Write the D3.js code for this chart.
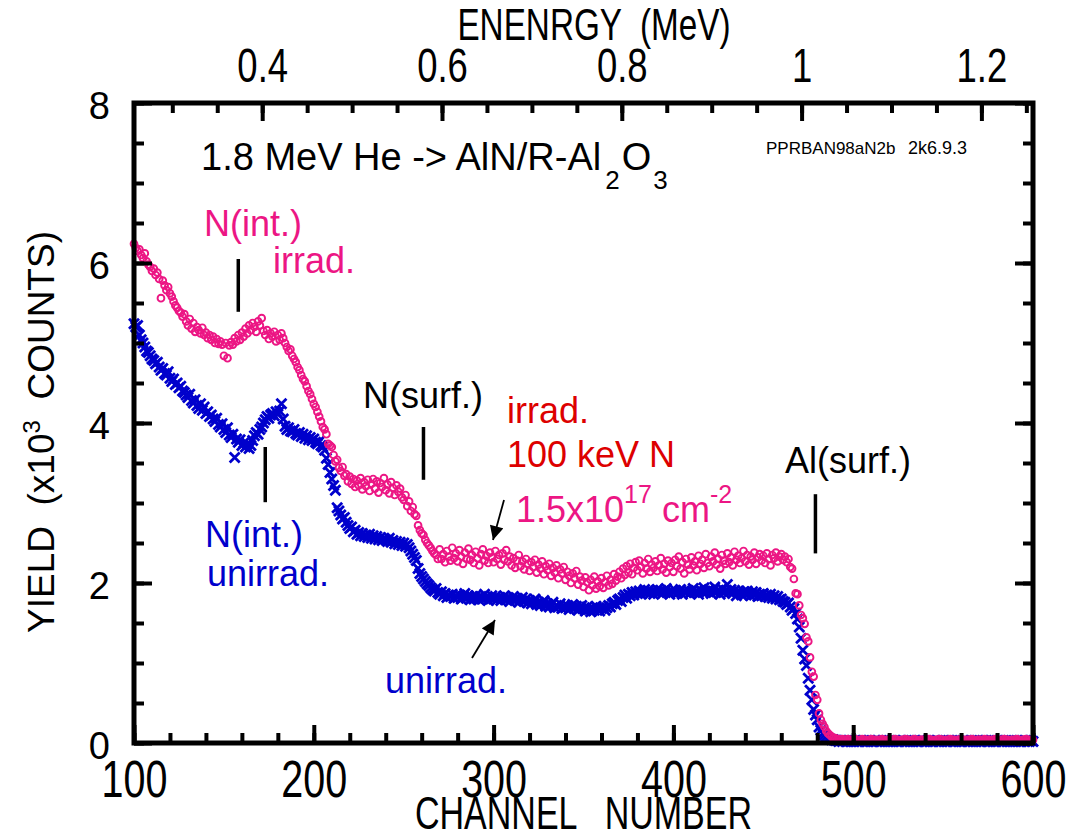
<!DOCTYPE html>
<html>
<head>
<meta charset="utf-8">
<script src="https://cdn.jsdelivr.net/npm/d3@7"></script>
<style>
body{margin:0;background:#fff;}
svg text{font-family:"Liberation Sans",Arial,sans-serif;}
</style>
</head>
<body>
<svg class="chart" width="1066" height="836"></svg>
<script>

// RBS spectra, one value per channel starting at channel 100 (x10^3 counts)
var firstChannel = 100;

var irradYield = [
 6.24,6.19,6.15,6.17,6.10,6.06,6.12,6.02,5.98,5.95, //100
 5.90,5.93,5.85,5.88,5.80,5.56,5.78,5.72,5.66,5.70, //110
 5.62,5.58,5.52,5.47,5.44,5.40,5.38,5.33,5.36,5.27, //120
 5.22,5.30,5.18,5.25,5.14,5.20,5.16,5.12,5.19,5.10, //130
 5.13,5.06,5.10,5.04,5.08,5.00,5.05,4.99,5.02,4.98, //140
 4.84,5.00,4.81,4.97,5.01,4.98,5.06,5.02,5.10,5.04, //150
 5.13,5.08,5.18,5.12,5.22,5.16,5.25,5.20,5.14,5.27, //160
 5.22,5.31,5.15,5.10,5.16,5.05,5.12,5.08,5.14,5.02, //170
 5.10,5.04,5.12,5.06,5.00,4.95,4.90,4.92,4.84,4.80, //180
 4.76,4.70,4.66,4.60,4.55,4.52,4.46,4.40,4.36,4.30, //190
 4.24,4.20,4.14,4.08,4.02,3.95,3.92,3.86,3.74,3.72, //200
 3.70,3.60,3.52,3.54,3.44,3.40,3.45,3.34,3.36,3.27, //210
 3.33,3.24,3.30,3.20,3.28,3.22,3.31,3.17,3.26,3.21, //220
 3.29,3.15,3.24,3.30,3.18,3.27,3.13,3.25,3.20,3.31, //230
 3.16,3.23,3.12,3.26,3.19,3.10,3.22,3.14,3.18,3.07, //240
 3.04,3.10,2.96,3.02,2.90,2.95,2.86,2.84,2.72,2.66, //250
 2.62,2.60,2.54,2.50,2.47,2.44,2.40,2.37,2.35,2.30, //260
 2.42,2.30,2.36,2.26,2.40,2.33,2.28,2.44,2.31,2.37, //270
 2.27,2.41,2.33,2.24,2.38,2.30,2.43,2.29,2.35,2.25, //280
 2.39,2.31,2.22,2.36,2.42,2.28,2.34,2.25,2.38,2.32, //290
 2.26,2.40,2.30,2.35,2.23,2.37,2.29,2.41,2.27,2.33, //300
 2.22,2.31,2.19,2.28,2.35,2.21,2.27,2.17,2.30,2.24, //310
 2.15,2.26,2.20,2.29,2.13,2.23,2.18,2.27,2.11,2.21, //320
 2.16,2.24,2.09,2.19,2.13,2.22,2.06,2.17,2.12,2.20, //330
 2.04,2.14,2.09,2.00,2.12,2.06,2.15,1.98,2.08,2.03, //340
 1.95,2.07,2.01,1.91,2.04,1.97,2.08,1.93,2.02,1.96, //350
 2.06,1.94,2.01,2.09,1.97,2.04,1.99,2.11,2.03,2.08, //360
 2.14,2.06,2.18,2.10,2.21,2.13,2.24,2.11,2.19,2.26, //370
 2.16,2.28,2.20,2.12,2.25,2.18,2.30,2.14,2.23,2.19, //380
 2.27,2.15,2.22,2.31,2.17,2.24,2.13,2.28,2.20,2.25, //390
 2.14,2.29,2.21,2.33,2.18,2.26,2.12,2.30,2.23,2.17, //400
 2.32,2.22,2.27,2.16,2.34,2.24,2.29,2.19,2.36,2.25, //410
 2.21,2.33,2.27,2.38,2.23,2.30,2.18,2.35,2.28,2.24, //420
 2.37,2.26,2.32,2.22,2.39,2.29,2.34,2.25,2.31,2.40, //430
 2.27,2.35,2.23,2.33,2.29,2.38,2.24,2.32,2.36,2.28, //440
 2.34,2.25,2.37,2.30,2.22,2.35,2.31,2.38,2.27,2.33, //450
 2.36,2.29,2.33,2.26,2.30,2.20,2.18,2.05,1.87,1.86, //460
 1.72,1.60,1.56,1.49,1.32,1.27,1.07,0.89,0.83,0.60, //470
 0.54,0.37,0.29,0.24,0.20,0.15,0.12,0.10,0.08,0.06, //480
 0.06,0.05,0.05,0.04,0.05,0.04,0.04,0.05,0.04,0.04, //490
 0.04,0.05,0.04,0.03,0.04,0.05,0.04,0.04,0.03,0.04, //500
 0.05,0.04,0.04,0.03,0.04,0.04,0.05,0.04,0.03,0.04, //510
 0.04,0.03,0.04,0.05,0.04,0.04,0.03,0.04,0.04,0.05, //520
 0.04,0.04,0.03,0.04,0.05,0.04,0.03,0.04,0.04,0.04, //530
 0.03,0.04,0.05,0.04,0.04,0.03,0.04,0.04,0.05,0.04, //540
 0.04,0.03,0.04,0.04,0.05,0.04,0.04,0.03,0.04,0.04, //550
 0.05,0.04,0.03,0.04,0.04,0.04,0.05,0.04,0.03,0.04, //560
 0.04,0.04,0.03,0.05,0.04,0.04,0.04,0.03,0.04,0.05, //570
 0.04,0.03,0.04,0.04,0.05,0.04,0.04,0.03,0.04,0.04, //580
 0.04,0.05,0.04,0.03,0.04,0.04,0.05,0.04,0.04,0.03, //590
 0.04
];

var unirradYield = [
 5.24,5.20,5.22,5.10,5.04,5.00,4.95,4.90,4.88,4.84, //100
 4.80,4.78,4.74,4.76,4.70,4.66,4.68,4.62,4.60,4.64, //110
 4.56,4.52,4.55,4.48,4.50,4.44,4.46,4.40,4.38,4.35, //120
 4.32,4.36,4.28,4.25,4.29,4.22,4.18,4.24,4.16,4.20, //130
 4.12,4.14,4.08,4.10,4.05,4.02,4.06,3.98,3.95,3.99, //140
 3.92,3.88,3.94,3.85,3.82,3.86,3.57,3.80,3.76,3.79, //150
 3.72,3.75,3.70,3.74,3.68,3.72,3.78,3.84,3.88,3.86, //160
 3.92,3.95,4.00,4.04,4.08,4.06,4.10,4.12,4.09,4.14, //170
 4.11,4.15,4.24,4.05,3.96,3.92,3.94,3.90,3.89,3.92, //180
 3.87,3.85,3.88,3.83,3.86,3.81,3.84,3.79,3.82,3.78, //190
 3.80,3.76,3.74,3.77,3.72,3.70,3.66,3.56,3.48,3.38, //200
 3.30,3.22,3.16,2.94,2.90,2.85,2.80,2.82,2.76,2.72, //210
 2.68,2.70,2.64,2.66,2.61,2.63,2.59,2.62,2.58,2.60, //220
 2.57,2.61,2.56,2.59,2.55,2.58,2.54,2.57,2.53,2.56, //230
 2.54,2.52,2.56,2.51,2.53,2.49,2.52,2.48,2.51,2.47, //240
 2.50,2.46,2.48,2.44,2.40,2.36,2.32,2.28,2.18,2.12, //250
 2.08,2.05,2.02,1.99,1.97,1.94,1.92,1.90,1.93,1.88, //260
 1.86,1.89,1.84,1.87,1.82,1.85,1.83,1.86,1.81,1.84, //270
 1.82,1.85,1.80,1.83,1.87,1.81,1.84,1.79,1.83,1.80, //280
 1.84,1.81,1.79,1.83,1.80,1.86,1.82,1.78,1.81,1.84, //290
 1.80,1.83,1.79,1.82,1.78,1.81,1.84,1.79,1.82,1.77, //300
 1.80,1.83,1.78,1.81,1.76,1.79,1.82,1.77,1.80,1.75, //310
 1.78,1.74,1.77,1.80,1.73,1.76,1.72,1.75,1.78,1.71, //320
 1.74,1.70,1.73,1.76,1.69,1.72,1.70,1.74,1.68,1.71, //330
 1.69,1.72,1.67,1.70,1.73,1.68,1.71,1.66,1.69,1.72, //340
 1.68,1.65,1.70,1.67,1.64,1.69,1.66,1.71,1.67,1.65, //350
 1.68,1.70,1.66,1.69,1.72,1.70,1.74,1.76,1.73,1.78, //360
 1.80,1.77,1.82,1.85,1.81,1.86,1.84,1.88,1.85,1.89, //370
 1.87,1.90,1.86,1.89,1.92,1.88,1.91,1.87,1.90,1.86, //380
 1.89,1.92,1.88,1.91,1.87,1.90,1.93,1.88,1.86,1.90, //390
 1.88,1.91,1.87,1.89,1.92,1.86,1.90,1.88,1.91,1.87, //400
 1.89,1.93,1.88,1.90,1.86,1.91,1.89,1.94,1.88,1.90, //410
 1.92,1.87,1.90,1.95,1.89,1.91,1.86,1.93,1.88,1.90, //420
 1.98,1.89,1.92,1.87,1.91,1.84,1.90,1.88,1.85,1.89, //430
 1.86,1.90,1.87,1.84,1.89,1.85,1.88,1.83,1.86,1.84, //440
 1.87,1.83,1.85,1.82,1.86,1.81,1.84,1.80,1.83,1.79, //450
 1.80,1.77,1.76,1.73,1.75,1.70,1.66,1.68,1.62,1.55, //460
 1.45,1.31,1.16,1.05,0.97,0.81,0.66,0.54,0.42,0.35, //470
 0.29,0.20,0.16,0.12,0.10,0.08,0.06,0.05,0.04,0.04, //480
 0.03,0.03,0.02,0.03,0.02,0.03,0.02,0.02,0.03,0.02, //490
 0.02,0.03,0.02,0.02,0.03,0.02,0.03,0.02,0.02,0.03, //500
 0.02,0.02,0.03,0.02,0.03,0.02,0.02,0.03,0.02,0.02, //510
 0.03,0.02,0.02,0.03,0.02,0.02,0.03,0.02,0.03,0.02, //520
 0.02,0.03,0.02,0.02,0.03,0.02,0.02,0.03,0.02,0.03, //530
 0.02,0.02,0.03,0.02,0.02,0.03,0.02,0.03,0.02,0.02, //540
 0.03,0.02,0.02,0.03,0.02,0.03,0.02,0.02,0.03,0.02, //550
 0.02,0.03,0.02,0.03,0.02,0.02,0.03,0.02,0.02,0.03, //560
 0.02,0.02,0.03,0.02,0.03,0.02,0.02,0.03,0.02,0.02, //570
 0.03,0.02,0.03,0.02,0.02,0.03,0.02,0.02,0.03,0.02, //580
 0.02,0.03,0.02,0.02,0.03,0.02,0.03,0.02,0.02,0.03, //590
 0.02
];

var channelTicks = [100,200,300,400,500,600];
var yieldTicks = [0,2,4,6,8];
var energyTicks = [0.4,0.6,0.8,1,1.2];

var pink = "#ec1684",
	blue = "#0000cc",
	red = "#dd0000";

// plot box (note: "top" is taken by window.top, so prefix everything)
var pLeft = 134, pRight = 1033, pTop = 103, pBottom = 743;
var squeeze = "scale(0.74,1)"; // condensed look of the channel/energy text
var squeezeTick = "scale(0.76,1)";

var scaleX = d3.scaleLinear().domain([100,600]).range([pLeft,pRight]);
var scaleY = d3.scaleLinear().domain([0,8]).range([pBottom,pTop]);
// energy = 0.002 MeV per channel
var scaleE = d3.scaleLinear().domain([0.2574,1.2574]).range([pLeft,pRight]);

var svg = d3.select(".chart");

function toPoints(arr){
	return arr.map(function(v,i){return {ch:firstChannel+i, y:v};});
}

// ---- data ----
var xMark = "M-5,-5L5,5M-5,5L5,-5";
svg.append("g").selectAll(".unirr")
	.data(toPoints(unirradYield))
	.enter()
	.append("path")
	.attr("class","unirr")
	.attr("d",xMark)
	.attr("transform",function(d){return "translate("+scaleX(d.ch)+","+scaleY(d.y)+")";})
	.style("stroke",blue)
	.style("stroke-width",2.8)
	.style("fill","none");

svg.append("g").selectAll(".irr")
	.data(toPoints(irradYield))
	.enter()
	.append("circle")
	.attr("class","irr")
	.attr("cx",function(d){return scaleX(d.ch);})
	.attr("cy",function(d){return scaleY(d.y);})
	.attr("r",3.4)
	.style("stroke",pink)
	.style("stroke-width",1.9)
	.style("fill","none");

// ---- axes ----
function styleAxis(g){
	g.select(".domain").remove();
	g.selectAll("line").style("stroke","#000").style("stroke-width",4);
	g.selectAll("text").style("fill","#000");
}

var minorCh = d3.range(100,601,20), minorY = d3.range(0,8.01,0.5), minorE = d3.range(0.3,1.26,0.05);

svg.append("g").attr("transform","translate(0,"+pBottom+")")
	.call(d3.axisBottom(scaleX).tickValues(minorCh).tickSize(-10).tickFormat(""))
	.call(styleAxis);
svg.append("g").attr("transform","translate(0,"+pBottom+")")
	.call(d3.axisBottom(scaleX).tickValues(channelTicks).tickSize(-18).tickPadding(17))
	.call(styleAxis)
	.selectAll("text").style("font-size","52px").attr("transform",squeezeTick);

svg.append("g").attr("transform","translate(0,"+pTop+")")
	.call(d3.axisTop(scaleE).tickValues(minorE).tickSize(-10).tickFormat(""))
	.call(styleAxis);
svg.append("g").attr("transform","translate(0,"+pTop+")")
	.call(d3.axisTop(scaleE).tickValues(energyTicks).tickSize(-18).tickPadding(21).tickFormat(d3.format("")))
	.call(styleAxis)
	.selectAll("text").style("font-size","48px").attr("transform",squeezeTick);

svg.append("g").attr("transform","translate("+pLeft+",0)")
	.call(d3.axisLeft(scaleY).tickValues(minorY).tickSize(-10).tickFormat(""))
	.call(styleAxis);
svg.append("g").attr("transform","translate("+pLeft+",0)")
	.call(d3.axisLeft(scaleY).tickValues(yieldTicks).tickSize(-18).tickPadding(24))
	.call(styleAxis)
	.selectAll("text").style("font-size","38px").attr("dy","0.4em");

svg.append("g").attr("transform","translate("+pRight+",0)")
	.call(d3.axisRight(scaleY).tickValues(minorY).tickSize(-10).tickFormat(""))
	.call(styleAxis);
svg.append("g").attr("transform","translate("+pRight+",0)")
	.call(d3.axisRight(scaleY).tickValues(yieldTicks).tickSize(-18).tickFormat(""))
	.call(styleAxis);

svg.append("rect")
	.attr("x",pLeft).attr("y",pTop)
	.attr("width",pRight-pLeft).attr("height",pBottom-pTop)
	.style("fill","none").style("stroke","#000").style("stroke-width",5);

// axis titles
svg.append("text")
	.attr("transform","translate("+(pLeft+pRight)/2+",829) "+squeeze)
	.attr("text-anchor","middle")
	.style("font-size","46px")
	.style("white-space","pre")
	.text("CHANNEL   NUMBER");

svg.append("text")
	.attr("transform","translate(594,40) "+squeeze)
	.attr("text-anchor","middle")
	.style("font-size","45px")
	.style("white-space","pre")
	.text("ENENRGY  (MeV)");

var yt = svg.append("text")
	.attr("transform","translate(54,432) rotate(-90)")
	.attr("text-anchor","middle")
	.style("font-size","37px")
	.style("white-space","pre");
yt.append("tspan").text("YIELD  (x10");
yt.append("tspan").attr("dy",-14).style("font-size","24px").text("3");
yt.append("tspan").attr("dy",14).text("  COUNTS)");

// ---- annotations ----
function label(x,y,size,color,parts){
	var t = svg.append("text").attr("x",x).attr("y",y)
		.style("font-size",size+"px").style("fill",color).style("white-space","pre");
	parts.forEach(function(p){
		var s = t.append("tspan").text(p[0]);
		if(p[1]) s.attr("dy",p[1]);
		if(p[2]) s.style("font-size",p[2]+"px");
		if(p[3]) s.attr("dx",p[3]);
	});
	return t;
}

label(201,170,38,"#000",[["1.8 MeV He -> AlN/R-Al"],["2",19,26,4],["O",-19,0,2],["3",19,26,2]]);
label(766,154,17,"#000",[["PPRBAN98aN2b"]]);
label(908,154,18,"#000",[["2k6.9.3"]]);

label(204,236,36,pink,[["N(int.)"]]);
label(273,273,36,pink,[["irrad."]]);
label(205,547,36,blue,[["N(int.)"]]);
label(207,586,36,blue,[["unirrad."]]);
label(363,408,36,"#000",[["N(surf.)"]]);
label(507,423,36,red,[["irrad."]]);
label(507,467,36,red,[["100 keV N"]]);
label(516,522,36,pink,[["1.5x10"],["17",-19,25],[" cm",19],["-2",-19,25]]);
label(385,693,36,blue,[["unirrad."]]);
label(785,473,36,"#000",[["Al(surf.)"]]);

// edge markers (channel, yield from, yield to)
var edges = [[158,6.05,5.39],[173,3.7,3.01],[261,3.95,3.29],[479,3.11,2.37]];
svg.selectAll(".edge")
	.data(edges)
	.enter()
	.append("line")
	.attr("class","edge")
	.attr("x1",function(d){return scaleX(d[0]);})
	.attr("x2",function(d){return scaleX(d[0]);})
	.attr("y1",function(d){return scaleY(d[1]);})
	.attr("y2",function(d){return scaleY(d[2]);})
	.style("stroke","#000").style("stroke-width",3.5);

// arrows
svg.append("defs").append("marker")
	.attr("id","head").attr("viewBox","0 0 10 10")
	.attr("refX",10).attr("refY",5)
	.attr("markerWidth",15).attr("markerHeight",14)
	.attr("markerUnits","userSpaceOnUse")
	.attr("orient","auto")
	.append("path").attr("d","M0,0L10,5L0,10z").style("fill","#000");

function arrow(x1,y1,x2,y2){
	svg.append("line").attr("x1",x1).attr("y1",y1).attr("x2",x2).attr("y2",y2)
		.style("stroke","#000").style("stroke-width",1.8)
		.attr("marker-end","url(#head)");
}
arrow(504,500,493,540);
arrow(472,658,495,620);

</script>
</body>
</html>
